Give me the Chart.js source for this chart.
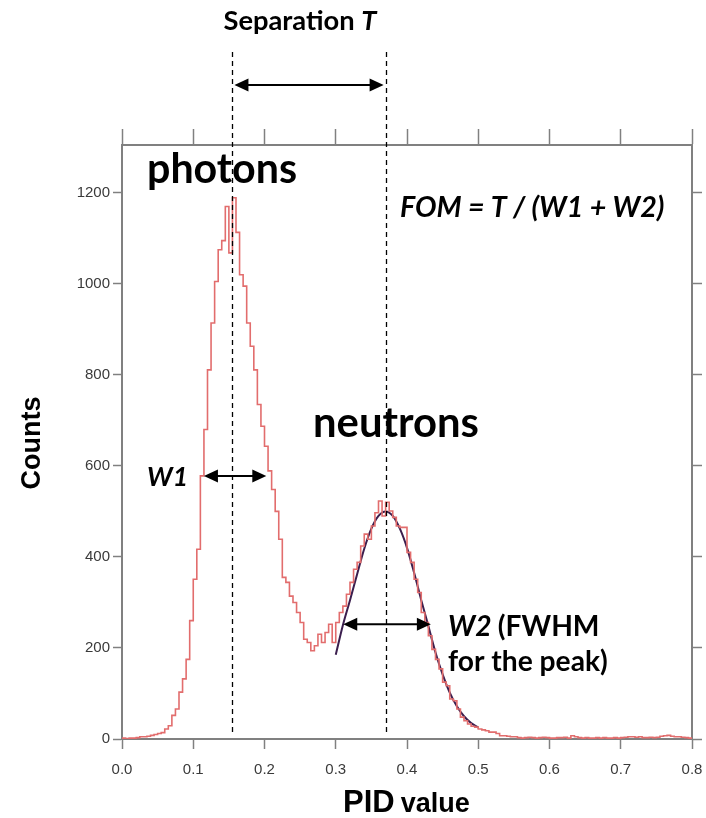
<!DOCTYPE html>
<html>
<head>
<meta charset="utf-8">
<script src="https://cdn.jsdelivr.net/npm/chart.js@4.4.1/dist/chart.umd.min.js"></script>
<style>
  html, body { margin: 0; padding: 0; background: #fff; }
  #wrap { width: 706px; height: 818px; }
</style>
</head>
<body>
<div id="wrap"><canvas id="pid"></canvas></div>
<script>
// histogram, bins of 0.005 starting at 0.0
var binWidth = 0.005;
var counts = [
    2, 1, 2, 2, 3, 5, 5, 6, 8, 10,
    12, 14, 22, 29, 52, 66, 103, 132, 175, 260,
    351, 417, 578, 680, 811, 914, 1005, 1075, 1095, 1170,
    1068, 1189, 1113, 1020, 995, 914, 863, 811, 735, 687,
    643, 589, 548, 500, 439, 355, 344, 314, 300, 278,
    256, 219, 212, 194, 205, 230, 212, 234, 252, 212,
    256, 278, 292, 318, 344, 373, 388, 424, 450, 439,
    468, 497, 523, 490, 520, 501, 487, 468, 465, 465,
    410, 388, 351, 322, 278, 256, 227, 197, 175, 154,
    125, 117, 88, 84, 66, 48, 40, 33, 28, 26,
    22, 20, 18, 15, 15, 12, 7, 7, 6, 5,
    5, 3, 2, 3, 4, 3, 2, 3, 4, 3,
    2, 2, 3, 3, 4, 2, 7, 5, 3, 2,
    3, 2, 2, 3, 2, 3, 2, 2, 3, 2,
    3, 4, 5, 5, 4, 5, 3, 3, 4, 3,
    4, 6, 7, 8, 6, 5, 5, 4, 3, 2
];

// gaussian fit of the neutron peak
var fitX = [0.30, 0.31, 0.32, 0.33, 0.34, 0.35, 0.36, 0.37, 0.38, 0.39, 0.40,
            0.41, 0.42, 0.43, 0.44, 0.45, 0.46, 0.47, 0.48, 0.49, 0.50];
var fitY = [185, 250, 305, 362, 418, 462, 490, 500, 490, 462, 420,
            365, 305, 248, 190, 142, 102, 72, 50, 35, 25];

var xTicks = [0.0, 0.1, 0.2, 0.3, 0.4, 0.5, 0.6, 0.7, 0.8];
var yTicks = [0, 200, 400, 600, 800, 1000, 1200];

// peak positions (dashed lines) and the two FWHM arrows [from, to, counts]
var peakPos = [0.155, 0.37];
var w1 = [0.115, 0.2025, 578];
var w2 = [0.3105, 0.4335, 252];

var histPoints = counts.map(function (c, i) { return {x: i * binWidth, y: c}; });
histPoints.push({x: counts.length * binWidth, y: counts[counts.length - 1]});
var fitPoints = fitX.map(function (x, i) { return {x: x, y: fitY[i]}; });

var axisGrey = '#808080';
var tickFont = {family: 'Liberation Sans', size: 15};
var fam = 'Lato, "Open Sans", sans-serif';

function setTicks(list) {
    return function (scale) { scale.ticks = list.map(function (v) { return {value: v}; }); };
}

// pick the font size that makes text as wide as in the picture
function fitFont(ctx, text, style, width) {
    ctx.font = style + ' 100px ' + fam;
    var size = 100 * width / ctx.measureText(text).width;
    ctx.font = style + ' ' + size.toFixed(1) + 'px ' + fam;
    return size.toFixed(1) + 'px ' + fam;
}

function arrowHead(ctx, x, y, dir) {
    ctx.beginPath();
    ctx.moveTo(x, y);
    ctx.lineTo(x - dir * 14, y - 6.5);
    ctx.lineTo(x - dir * 14, y + 6.5);
    ctx.closePath();
    ctx.fill();
}

function doubleArrow(ctx, x1, x2, y) {
    ctx.beginPath();
    ctx.moveTo(x1 + 6, y);
    ctx.lineTo(x2 - 6, y);
    ctx.stroke();
    arrowHead(ctx, x1, y, -1);
    arrowHead(ctx, x2, y, 1);
}

var notes = {
    id: 'notes',
    afterDraw: function (chart) {
        var ctx = chart.ctx;
        var xs = chart.scales.x, ys = chart.scales.y;
        ctx.save();
        ctx.strokeStyle = '#000';
        ctx.fillStyle = '#000';

        // dashed peak lines
        ctx.lineWidth = 1.3;
        ctx.setLineDash([5, 4]);
        peakPos.forEach(function (p) {
            var px = Math.round(xs.getPixelForValue(p)) + 0.5;
            ctx.beginPath();
            ctx.moveTo(px, 52);
            ctx.lineTo(px, ys.getPixelForValue(10));
            ctx.stroke();
        });
        ctx.setLineDash([]);

        // arrows
        ctx.lineWidth = 2;
        doubleArrow(ctx, xs.getPixelForValue(peakPos[0]) + 2, xs.getPixelForValue(peakPos[1]) - 2, 85);
        doubleArrow(ctx, xs.getPixelForValue(w1[0]), xs.getPixelForValue(w1[1]), ys.getPixelForValue(w1[2]));
        doubleArrow(ctx, xs.getPixelForValue(w2[0]), xs.getPixelForValue(w2[1]), ys.getPixelForValue(w2[2]));

        ctx.textBaseline = 'alphabetic';

        // Separation T
        var f = fitFont(ctx, 'Separation T', 'bold', 154);
        ctx.font = 'bold ' + f;
        var a = ctx.measureText('Separation ').width;
        ctx.font = 'italic bold ' + f;
        var b = ctx.measureText('T').width;
        var sx = 300 - (a + b) / 2;
        ctx.font = 'bold ' + f;
        ctx.fillText('Separation ', sx, 30);
        ctx.font = 'italic bold ' + f;
        ctx.fillText('T', sx + a, 30);

        fitFont(ctx, 'photons', 'bold', 150);
        ctx.fillText('photons', 147, 183);
        fitFont(ctx, 'neutrons', 'bold', 166);
        ctx.fillText('neutrons', 313, 437);

        fitFont(ctx, 'FOM = T / (W1 + W2)', 'italic bold', 264);
        ctx.fillText('FOM = T / (W1 + W2)', 400, 217);

        fitFont(ctx, 'W1', 'italic bold', 41);
        ctx.fillText('W1', 147, 486);

        f = fitFont(ctx, 'for the peak)', 'bold', 160);
        ctx.fillText('for the peak)', 448, 671);
        ctx.font = 'italic bold ' + f;
        ctx.fillText('W2', 448, 636);
        var wv = ctx.measureText('W2 ').width;
        ctx.font = 'bold ' + f;
        ctx.fillText('(FWHM', 448 + wv, 636);

        // axis titles
        ctx.font = 'bold 27px "Liberation Sans", Arial, sans-serif';
        ctx.save();
        ctx.translate(40, 443);
        ctx.rotate(-Math.PI / 2);
        ctx.textAlign = 'center';
        ctx.fillText('Counts', 0, 0);
        ctx.restore();

        ctx.font = 'bold 31px "Liberation Sans", Arial, sans-serif';
        ctx.fillText('PID', 343, 812);
        var pw = ctx.measureText('PID').width;
        ctx.font = 'bold 27px "Liberation Sans", Arial, sans-serif';
        ctx.fillText('value', 343 + pw + 6, 812);

        ctx.restore();
    }
};

new Chart(document.getElementById('pid'), {
    type: 'line',
    data: {
        datasets: [
            {
                label: 'histogram',
                data: histPoints,
                stepped: 'before',
                borderColor: '#e26d6d',
                borderWidth: 1.6,
                pointRadius: 0,
                fill: false
            },
            {
                label: 'fit',
                data: fitPoints,
                cubicInterpolationMode: 'monotone',
                borderColor: '#3b1e4e',
                borderWidth: 2,
                pointRadius: 0,
                fill: false
            }
        ]
    },
    options: {
        responsive: true,
        maintainAspectRatio: false,
        animation: false,
        layout: {padding: 0},
        plugins: {legend: {display: false}, tooltip: {enabled: false}},
        scales: {
            x: {
                type: 'linear', position: 'bottom', min: 0, max: 0.8,
                afterBuildTicks: setTicks(xTicks),
                afterFit: function (s) { s.height = 79; s.paddingLeft = 0; s.paddingRight = 0; },
                ticks: {
                    font: tickFont, color: '#3a3a3a', padding: 12, maxRotation: 0,
                    callback: function (v) { return v.toFixed(1); }
                },
                grid: {drawOnChartArea: false, tickLength: 10, tickColor: axisGrey, tickWidth: 1.5},
                border: {color: axisGrey, width: 2}
            },
            y: {
                type: 'linear', position: 'left', min: 0, max: 1305,
                afterBuildTicks: setTicks(yTicks),
                afterFit: function (s) { s.width = 122; s.paddingTop = 0; s.paddingBottom = 0; },
                ticks: {
                    font: tickFont, color: '#3a3a3a', padding: 3,
                    callback: function (v) { return String(v); }
                },
                grid: {drawOnChartArea: false, tickLength: 9, tickColor: axisGrey, tickWidth: 1.5},
                border: {color: axisGrey, width: 2}
            },
            x2: {
                type: 'linear', position: 'top', min: 0, max: 0.8,
                afterBuildTicks: setTicks(xTicks),
                afterFit: function (s) { s.height = 145; s.paddingLeft = 0; s.paddingRight = 0; },
                ticks: {display: false},
                grid: {drawOnChartArea: false, tickLength: 16, tickColor: axisGrey, tickWidth: 1.5},
                border: {color: axisGrey, width: 2}
            },
            y2: {
                type: 'linear', position: 'right', min: 0, max: 1305,
                afterBuildTicks: setTicks(yTicks),
                afterFit: function (s) { s.width = 14; s.paddingTop = 0; s.paddingBottom = 0; },
                ticks: {display: false},
                grid: {drawOnChartArea: false, tickLength: 10, tickColor: axisGrey, tickWidth: 1.5},
                border: {color: axisGrey, width: 2}
            }
        }
    },
    plugins: [notes]
});
</script>
</body>
</html>
